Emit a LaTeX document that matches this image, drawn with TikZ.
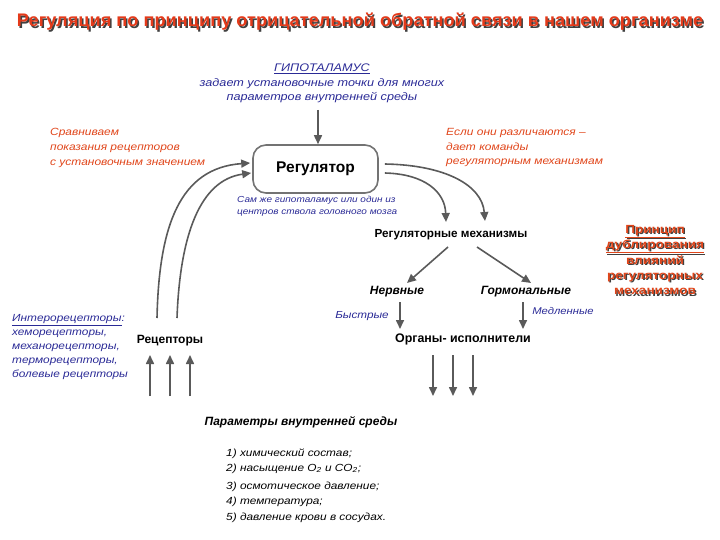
\documentclass[tikz,border=0pt]{standalone}
\usepackage{fontspec}
\setmainfont{Liberation Sans}
\newfontfamily\wf{Liberation Sans}[FakeStretch=1.15]
\usetikzlibrary{arrows.meta,calc}
\definecolor{ttl}{HTML}{E43A1A}
\definecolor{redt}{HTML}{E0451A}
\definecolor{bluet}{HTML}{2A2A96}
\definecolor{arr}{HTML}{5A5A5A}
\tikzset{
  conn/.style={draw=arr,line width=1.6pt,-{Triangle[length=9pt,width=8pt]}},
  bluetxt/.style={text=bluet,font=\wf\itshape\fontsize{11}{14.5}\selectfont,align=center,inner sep=0pt},
  redtxt/.style={text=redt,font=\wf\itshape\fontsize{10.4}{14.8}\selectfont,align=left,inner sep=0pt},
  lbl/.style={font=\bfseries\fontsize{12}{13}\selectfont,inner sep=1pt},
  ilbl/.style={font=\bfseries\itshape\fontsize{12}{13}\selectfont,inner sep=1pt},
  shadowtxt/.style={text=black!75,inner sep=0pt},
  princfont/.style={font=\wf\bfseries\fontsize{11.8}{15.4}\selectfont},
}
\begin{document}
\begin{tikzpicture}[x=1pt,y=-1pt]
\useasboundingbox (0,0) rectangle (720,540);
% title
\node[shadowtxt,font=\bfseries\fontsize{18.2}{20}\selectfont] at (361.5,23.5) {Регуляция по принципу отрицательной обратной связи в нашем организме};
\node[text=ttl,inner sep=0pt,font=\bfseries\fontsize{18.2}{20}\selectfont] (title) at (360,22) {Регуляция по принципу отрицательной обратной связи в нашем организме};
% hypothalamus
\node[bluetxt,anchor=north] (hyp) at (322,64) {\underline{ГИПОТАЛАМУС}\\задает установочные точки для многих\\параметров внутренней среды};
% regulator
\node[draw=black!55,line width=1.6pt,rounded corners=13pt,minimum width=125pt,minimum height=48pt,font=\bfseries\fontsize{15.5}{17}\selectfont] (reg) at (315.5,169) {Регулятор};
\draw[conn] (318,110) -- (reg.north -| 318,0);
\node[bluetxt,font=\wf\itshape\fontsize{8.7}{12}\selectfont,align=left,anchor=north west] (self) at (237,196) {Сам же гипоталамус или один из\\центров ствола головного мозга};
% red texts
\node[redtxt,anchor=north west] (cmp) at (50,128) {Сравниваем\\показания рецепторов\\с установочным значением};
\node[redtxt,anchor=north west] (diff) at (446,128) {Если они различаются –\\дает команды\\регуляторным механизмам};
% regulatory mechanisms
\node[lbl,font=\bfseries\fontsize{11.7}{13}\selectfont] (mech) at (451,235) {Регуляторные механизмы};
\node[ilbl] (nerv) at (397,292) {Нервные};
\node[ilbl] (horm) at (526,292) {Гормональные};
\node[lbl,font=\bfseries\fontsize{12.4}{13}\selectfont] (org) at (463,339) {Органы- исполнители};
\draw[conn] (448,247) -- (407,283);
\draw[conn] (477,247) -- (531,283);
\draw[conn] (400,302) -- (400,329);
\draw[conn] (523,302) -- (523,329);
\node[bluetxt,font=\wf\itshape\fontsize{10.2}{11}\selectfont] (fast) at (362,316) {Быстрые};
\node[bluetxt,font=\wf\itshape\fontsize{9.8}{11}\selectfont] (slow) at (563,311) {Медленные};
% principle box
\node[shadowtxt,align=center,princfont] at (656.3,261.3) {\underline{Принцип}\\\underline{дублирования}\\влияний\\регуляторных\\механизмов};
\node[text=redt,inner sep=0pt,align=center,princfont] (princ) at (655,260) {\underline{Принцип}\\\underline{дублирования}\\влияний\\регуляторных\\механизмов};
% receptors
\node[bluetxt,align=left,anchor=north west,font=\wf\itshape\fontsize{10.3}{14}\selectfont] (intero) at (12,314) {\underline{Интерорецепторы}:\\хеморецепторы,\\механорецепторы,\\терморецепторы,\\болевые рецепторы};
\node[lbl] (rec) at (170,341) {Рецепторы};
% curves to regulator
\coordinate (l1) at (157,318);
\coordinate (l2) at (177,318);
\coordinate (e1) at ($(reg.west)+(-2,-6)$);
\coordinate (e2) at ($(reg.west)+(-1,4)$);
\draw[conn] (l1) .. controls (159,225) and (180,168) .. (e1);
\draw[conn] (l2) .. controls (180,235) and (200,180) .. (e2);
\coordinate (r1) at ($(reg.east)+(6,-5)$);
\coordinate (r2) at ($(reg.east)+(6,4)$);
\coordinate (m1) at (485,221);
\coordinate (m2) at (446,222);
\draw[conn] (r1) .. controls (445,165) and (482,185) .. (m1);
\draw[conn] (r2) .. controls (425,174) and (445,192) .. (m2);
% receptor inputs
\foreach \x [count=\i] in {150,170,190}{
  \coordinate (ri\i) at (\x,396);
  \draw[conn] (ri\i) -- (\x,355);
}
\foreach \x [count=\i] in {433,453,473}{
  \coordinate (ro\i) at (\x,355);
  \draw[conn] (ro\i) -- (\x,396);
}
% parameters
\node[ilbl] (par) at (301,422) {Параметры внутренней среды};
\node[align=left,anchor=north west,inner sep=0pt,font=\wf\itshape\fontsize{10.3}{10}\selectfont] (list) at (226,449) {%
1) химический состав;\\[4.5pt]
2) насыщение O\textsubscript{2} и CO\textsubscript{2};\\[8.5pt]
3) осмотическое давление;\\[5pt]
4) температура;\\[6pt]
5) давление крови в сосудах.};
\end{tikzpicture}
\end{document}
